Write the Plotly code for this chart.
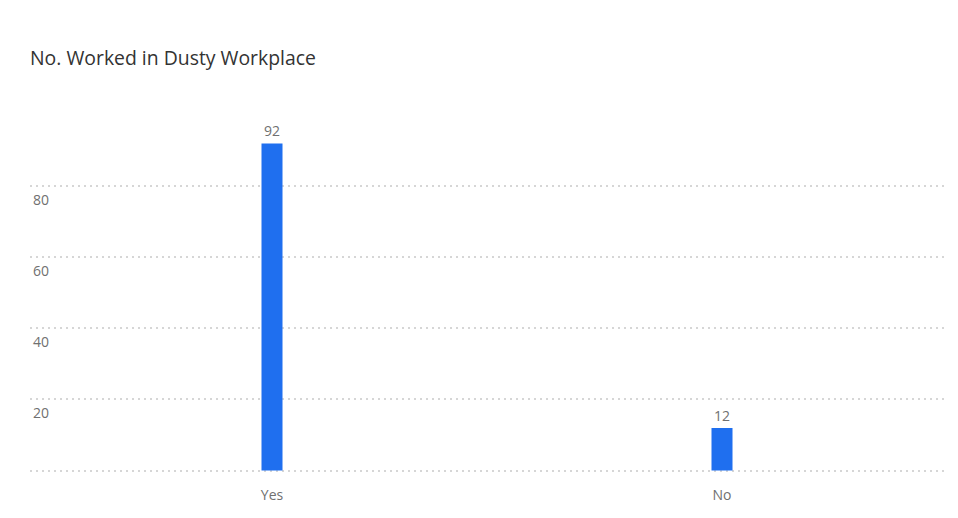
import plotly.graph_objects as go

categories = ["Yes", "No"]
counts = [92, 12]
y_tickvals = [0, 20, 40, 60, 80]
y_ticktext = ["", "20", "40", "60", "80"]

# page body has an 8px margin, so figure starts at (8, 8)
OFF = 8
W, H = 950, 510
left, right = 30 - OFF, 947 - OFF
top, bottom = 115 - OFF, 472 - OFF

scale = 450.0
x0 = -(272 - 30) / scale
x1 = 1 + (947 - 722) / scale

fig = go.Figure()
fig.add_trace(go.Bar(
    x=[0, 1], y=counts,
    width=21 / scale,
    marker=dict(color="#1F6FEF", line=dict(width=0)),
    text=[str(v) for v in counts],
    textposition="outside",
    textfont=dict(family="Open Sans", size=14, color="#707070"),
    cliponaxis=False,
    hoverinfo="skip",
))

fig.update_layout(
    width=W, height=H,
    margin=dict(l=left, r=W - right, t=top, b=H - bottom, pad=0),
    paper_bgcolor="white", plot_bgcolor="white",
    showlegend=False,
    font=dict(family="Open Sans", color="#707070"),
    title=dict(
        text="No. Worked in Dusty Workplace",
        x=0, xref="paper", xanchor="left",
        y=1 - (58 - OFF) / H, yref="container", yanchor="middle",
        font=dict(family="Open Sans", size=19.4, color="#333333"),
    ),
    xaxis=dict(
        range=[x0, x1],
        tickvals=[0, 1], ticktext=categories,
        showgrid=False, zeroline=False, showline=False,
        ticks="outside", ticklen=10, tickcolor="rgba(0,0,0,0)",
        tickfont=dict(family="Open Sans", size=14, color="#707070"),
        fixedrange=True,
    ),
    yaxis=dict(
        range=[-0.4, 100],
        tickvals=y_tickvals, ticktext=y_ticktext,
        showgrid=True, gridcolor="#d6d6d6", gridwidth=2, griddash="2px,4px",
        zeroline=False, showline=False,
        ticklabelposition="inside bottom",
        ticklabelshift=4,
        tickfont=dict(family="Open Sans", size=14, color="#707070"),
        fixedrange=True,
    ),
)

fig.write_html("out.html")
